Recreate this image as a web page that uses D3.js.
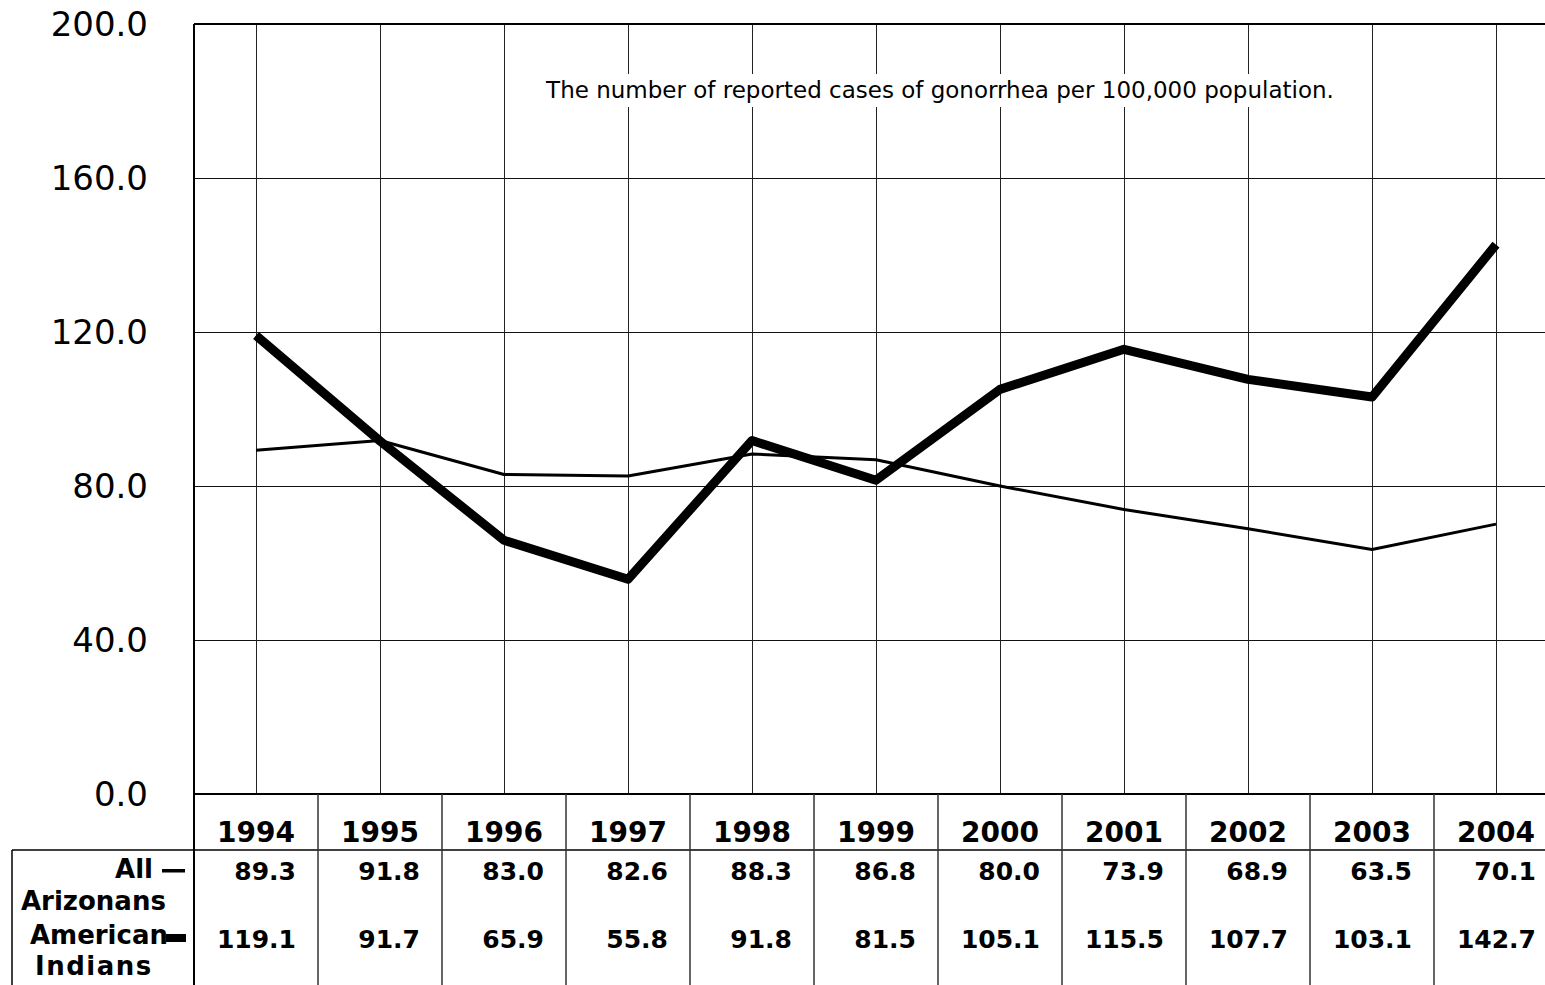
<!DOCTYPE html>
<html lang="en">
<head>
    <meta charset="UTF-8">
    <script src="https://d3js.org/d3.v7.min.js"></script>
    <style>
        body { margin: 0; background: #fff; }
        svg { display: block; }
        text { font-family: "DejaVu Sans", Verdana, sans-serif; fill: #000; }
        .crisp { shape-rendering: crispEdges; }
    </style>
    <title>Gonorrhea rates</title>
</head>
<body>
<svg id="chart"></svg>
<script>
    var years = ["1994", "1995", "1996", "1997", "1998", "1999", "2000", "2001", "2002", "2003", "2004"]
    var allArizonans = [89.3, 91.8, 83.0, 82.6, 88.3, 86.8, 80.0, 73.9, 68.9, 63.5, 70.1]
    var americanIndians = [119.1, 91.7, 65.9, 55.8, 91.8, 81.5, 105.1, 115.5, 107.7, 103.1, 142.7]
    var yTicks = [0, 40, 80, 120, 160, 200]
    var title = "The number of reported cases of gonorrhea per 100,000 population."

    var W = 1545, H = 985
    var svg = d3.select("#chart").attr("width", W).attr("height", H)

    var m = {left: 194, right: 1558, top: 24, bottom: 794}
    var tableTop = 850, tableLeft = 12

    var x = d3.scaleBand().domain(years).range([m.left, m.right])
    var y = d3.scaleLinear().domain([0, 200]).range([m.bottom, m.top])
    var cx = function (yr) { return x(yr) + x.bandwidth() / 2 }

    // grid
    var grid = svg.append("g").attr("class", "crisp")
    grid.selectAll(".hg").data(yTicks.slice(1, -1)).enter().append("line")
        .attr("x1", m.left).attr("x2", m.right)
        .attr("y1", function (d) { return y(d) }).attr("y2", function (d) { return y(d) })
        .attr("stroke", "#111").attr("stroke-width", 1)
    grid.selectAll(".vg").data(years).enter().append("line")
        .attr("x1", function (d) { return cx(d) }).attr("x2", function (d) { return cx(d) })
        .attr("y1", m.top).attr("y2", m.bottom)
        .attr("stroke", "#222").attr("stroke-width", 1)

    // title with white box
    var t = svg.append("text")
        .attr("x", 940).attr("y", 98)
        .attr("text-anchor", "middle")
        .style("font-size", "23px")
        .text(title)
    var bb = t.node().getBBox()
    svg.insert("rect", "text")
        .attr("x", bb.x - 8).attr("y", 74)
        .attr("width", bb.width + 16).attr("height", 33)
        .attr("fill", "#fff")

    // y axis labels
    svg.append("g").selectAll("text").data(yTicks).enter().append("text")
        .attr("x", 148).attr("y", function (d) { return y(d) + 12 })
        .attr("text-anchor", "end")
        .style("font-size", "34px")
        .text(function (d) { return d.toFixed(1) })

    // lines
    var line = d3.line().x(function (d, i) { return cx(years[i]) }).y(function (d) { return y(d) })
    svg.append("path").datum(allArizonans).attr("d", line)
        .attr("fill", "none").attr("stroke", "#000").attr("stroke-width", 3)
        .attr("stroke-linejoin", "round")
    svg.append("path").datum(americanIndians).attr("d", line)
        .attr("fill", "none").attr("stroke", "#000").attr("stroke-width", 9)
        .attr("stroke-linejoin", "round")

    // frame
    var frame = svg.append("g").attr("class", "crisp")
    frame.append("line").attr("x1", m.left).attr("x2", m.right).attr("y1", m.top).attr("y2", m.top)
        .attr("stroke", "#000").attr("stroke-width", 2.5)
    frame.append("line").attr("x1", m.left).attr("x2", m.left).attr("y1", m.top).attr("y2", H)
        .attr("stroke", "#000").attr("stroke-width", 2.5)
    frame.append("line").attr("x1", m.left).attr("x2", m.right).attr("y1", m.bottom).attr("y2", m.bottom)
        .attr("stroke", "#000").attr("stroke-width", 2.5)

    // table
    var tbl = svg.append("g")
    tbl.append("line").attr("x1", tableLeft).attr("x2", W).attr("y1", tableTop).attr("y2", tableTop)
        .attr("stroke", "#000").attr("stroke-width", 1.5)
    tbl.append("line").attr("x1", tableLeft).attr("x2", tableLeft).attr("y1", tableTop).attr("y2", H)
        .attr("stroke", "#000").attr("stroke-width", 1.5)
    tbl.selectAll(".cl").data(years.slice(1)).enter().append("line")
        .attr("x1", function (d) { return x(d) }).attr("x2", function (d) { return x(d) })
        .attr("y1", m.bottom).attr("y2", H)
        .attr("stroke", "#333").attr("stroke-width", 1.5)

    tbl.selectAll(".yr").data(years).enter().append("text")
        .attr("x", function (d) { return cx(d) }).attr("y", 842)
        .attr("text-anchor", "middle")
        .style("font-size", "28px").style("font-weight", "bold")
        .text(function (d) { return d })

    tbl.selectAll(".v1").data(allArizonans).enter().append("text")
        .attr("x", function (d, i) { return x(years[i]) + x.bandwidth() - 22 }).attr("y", 880)
        .attr("text-anchor", "end")
        .style("font-size", "25px").style("font-weight", "bold")
        .text(function (d) { return d.toFixed(1) })
    tbl.selectAll(".v2").data(americanIndians).enter().append("text")
        .attr("x", function (d, i) { return x(years[i]) + x.bandwidth() - 22 }).attr("y", 948)
        .attr("text-anchor", "end")
        .style("font-size", "25px").style("font-weight", "bold")
        .text(function (d) { return d.toFixed(1) })

    // row labels with legend marks
    var lab = function (s, xx, yy, anchor, ls) {
        tbl.append("text").attr("x", xx).attr("y", yy).attr("text-anchor", anchor)
            .style("font-size", "26px").style("font-weight", "bold")
            .style("letter-spacing", (ls || 0) + "px").text(s)
    }
    lab("All", 153, 878, "end")
    tbl.append("rect").attr("x", 162).attr("y", 869).attr("width", 23).attr("height", 3.5).attr("fill", "#000")
    lab("Arizonans", 21, 910, "start")
    lab("American", 168, 944, "end")
    tbl.append("rect").attr("x", 166).attr("y", 934).attr("width", 20).attr("height", 8).attr("fill", "#000")
    lab("Indians", 35, 975, "start", 1.5)
</script>
</body>
</html>
